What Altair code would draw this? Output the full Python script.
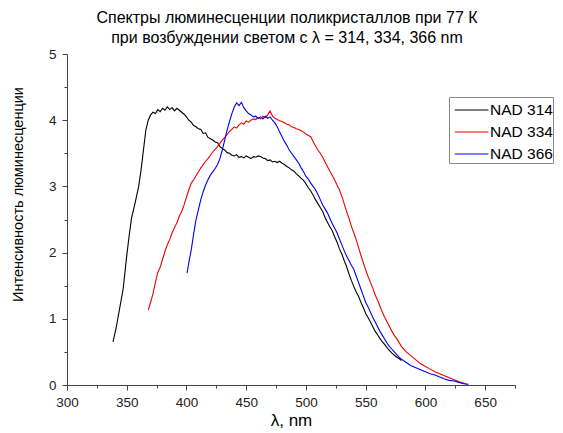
import altair as alt
import pandas as pd

# NAD 314 (black)
x314 = [338.5, 341, 344, 347, 350, 352, 354, 357, 360, 362, 364, 366, 368, 370, 372, 374, 376, 378, 380, 382,
        384, 386, 388, 390, 392, 394, 396, 398, 400, 402, 404, 406, 408, 410, 412, 414, 416, 418, 420, 422,
        424, 426, 428, 430, 432, 434, 436, 438, 440, 442, 444, 446, 448, 450, 452, 454, 456, 458, 460, 462,
        464, 466, 468, 470, 472, 474, 476, 478, 480, 482, 484, 486, 488, 490, 492, 494, 496, 498, 500, 502,
        504, 506, 508, 510, 512, 514, 516, 518, 520, 522, 524, 526, 528, 530, 532, 534, 536, 538, 540, 542,
        544, 546, 548, 550, 552, 554, 556, 558, 560, 562, 564, 566, 568, 570, 572, 574, 576, 578, 580]
y314 = [0.65, 0.85, 1.15, 1.45, 1.95, 2.25, 2.52, 2.75, 3.0, 3.25, 3.55, 3.85, 4.0, 4.08, 4.12, 4.10, 4.16, 4.13, 4.18, 4.15,
        4.20, 4.16, 4.19, 4.14, 4.18, 4.15, 4.12, 4.09, 4.05, 4.0, 3.97, 3.92, 3.90, 3.87, 3.86, 3.80, 3.81, 3.74, 3.72, 3.70,
        3.67, 3.66, 3.60, 3.57, 3.55, 3.51, 3.50, 3.47, 3.46, 3.48, 3.44, 3.45, 3.43, 3.46, 3.44, 3.42, 3.45, 3.44, 3.46, 3.45,
        3.43, 3.42, 3.39, 3.40, 3.37, 3.38, 3.36, 3.38, 3.35, 3.33, 3.30, 3.28, 3.25, 3.23, 3.19, 3.16, 3.12, 3.09, 3.04, 2.98,
        2.93, 2.87, 2.80, 2.74, 2.68, 2.62, 2.53, 2.46, 2.39, 2.33, 2.24, 2.16, 2.06, 1.98, 1.88, 1.79, 1.68, 1.58, 1.49, 1.41,
        1.34, 1.25, 1.17, 1.08, 1.02, 0.95, 0.88, 0.81, 0.76, 0.70, 0.65, 0.61, 0.56, 0.52, 0.48, 0.45, 0.42, 0.40, 0.37]

# NAD 334 (red)
x334 = [368, 370, 372, 374, 376, 378, 380, 382, 384, 386, 388, 390, 392, 394, 396, 398, 400, 402, 404, 406,
        408, 410, 412, 414, 416, 418, 420, 422, 424, 426, 428, 430, 432, 434, 436, 438, 440, 442, 444, 446,
        448, 450, 452, 454, 456, 458, 460, 462, 464, 466, 468, 470, 472, 474, 476, 478, 480, 482, 484, 486,
        488, 490, 492, 494, 496, 498, 500, 502, 504, 506, 508, 510, 512, 514, 516, 518, 520, 522, 524, 526,
        528, 530, 532, 534, 536, 538, 540, 542, 544, 546, 548, 550, 552, 554, 556, 558, 560, 562, 564, 566,
        568, 570, 572, 574, 576, 578, 580, 584, 588, 592, 596, 600, 604, 608, 612, 616, 620, 624, 628, 632, 634]
y334 = [1.13, 1.25, 1.38, 1.55, 1.70, 1.78, 1.90, 2.02, 2.12, 2.20, 2.30, 2.38, 2.45, 2.55, 2.62, 2.72, 2.84, 2.95, 3.05, 3.10,
        3.16, 3.22, 3.28, 3.33, 3.38, 3.42, 3.47, 3.52, 3.56, 3.60, 3.65, 3.70, 3.74, 3.78, 3.83, 3.86, 3.90, 3.88, 3.93, 3.96,
        3.94, 3.99, 3.97, 4.00, 4.02, 4.01, 4.04, 4.02, 4.06, 4.04, 4.08, 4.14, 4.06, 4.03, 4.01, 3.99, 3.98, 3.96, 3.94, 3.93,
        3.90, 3.89, 3.87, 3.86, 3.84, 3.82, 3.79, 3.77, 3.75, 3.68, 3.61, 3.55, 3.50, 3.44, 3.37, 3.30, 3.23, 3.17, 3.10, 3.02,
        2.95, 2.85, 2.74, 2.62, 2.52, 2.40, 2.30, 2.20, 2.08, 1.96, 1.85, 1.74, 1.64, 1.55, 1.46, 1.36, 1.28, 1.19, 1.10, 1.02,
        0.95, 0.88, 0.81, 0.75, 0.70, 0.64, 0.58, 0.50, 0.44, 0.38, 0.32, 0.28, 0.24, 0.20, 0.17, 0.14, 0.11, 0.08, 0.05, 0.03, 0.02]

# NAD 366 (blue)
x366 = [400.5, 402, 404, 406, 408, 410, 412, 414, 416, 418, 420, 422, 424, 426, 428, 430, 432, 434, 436, 438,
        440, 442, 444, 446, 448, 450, 452, 454, 456, 458, 460, 462, 464, 466, 468, 470, 472, 474, 476, 478,
        480, 482, 484, 486, 488, 490, 492, 494, 496, 498, 500, 502, 504, 506, 508, 510, 512, 514, 516, 518,
        520, 522, 524, 526, 528, 530, 532, 534, 536, 538, 540, 542, 544, 546, 548, 550, 552, 554, 556, 558,
        560, 562, 564, 566, 568, 570, 572, 574, 576, 578, 580, 584, 588, 592, 596, 600, 604, 608, 612, 616,
        620, 624, 628, 632, 636]
y366 = [1.69, 1.85, 2.04, 2.28, 2.50, 2.65, 2.80, 2.92, 3.02, 3.10, 3.17, 3.22, 3.27, 3.33, 3.42, 3.55, 3.70, 3.85, 3.98, 4.10,
        4.20, 4.26, 4.22, 4.27, 4.19, 4.14, 4.10, 4.08, 4.05, 4.06, 4.03, 4.05, 4.02, 4.06, 4.03, 4.05, 4.00, 3.96, 3.90, 3.82,
        3.75, 3.68, 3.62, 3.55, 3.50, 3.45, 3.40, 3.35, 3.28, 3.22, 3.15, 3.11, 3.05, 3.00, 2.95, 2.88, 2.80, 2.72, 2.66, 2.60,
        2.52, 2.44, 2.37, 2.30, 2.21, 2.12, 2.03, 1.95, 1.88, 1.81, 1.75, 1.65, 1.55, 1.45, 1.35, 1.25, 1.18, 1.10, 1.02, 0.95,
        0.88, 0.81, 0.75, 0.69, 0.63, 0.58, 0.54, 0.50, 0.46, 0.42, 0.39, 0.34, 0.29, 0.26, 0.23, 0.20, 0.17, 0.15, 0.12, 0.09,
        0.07, 0.06, 0.04, 0.02, 0.01]

series_names = ["NAD 314", "NAD 334", "NAD 366"]
series_colors = ["#000000", "#ee0000", "#0000ee"]

x_ticks = [300 + 25 * i for i in range(16)]
y_ticks = [0.5 * i for i in range(11)]

rows = []
for name, xs, ys in zip(series_names, [x314, x334, x366], [y314, y334, y366]):
    for i, (a, b) in enumerate(zip(xs, ys)):
        rows.append({"series": name, "wl": a, "val": b, "order": i})
df = pd.DataFrame(rows)

FONT = "Liberation Sans"

chart = alt.Chart(df).mark_line(strokeWidth=1.1, interpolate="linear").encode(
    x=alt.X("wl:Q",
            scale=alt.Scale(domain=[300, 675], nice=False, zero=False),
            axis=alt.Axis(values=x_ticks, title="λ, nm", grid=False, format="d",
                          labelExpr="datum.value % 50 === 0 ? datum.label : ''",
                          tickSize={"condition": {"test": "datum.value % 50 !== 0", "value": 3}, "value": 5},
                          labelFontSize=13.5, labelFont=FONT, labelColor="#222222", labelPadding=5,
                          titleFontSize=17, titleFont=FONT, titleFontWeight="normal", titleColor="#000000",
                          titlePadding=4,
                          domainColor="#444444", tickColor="#444444", labelFlush=False)),
    y=alt.Y("val:Q",
            scale=alt.Scale(domain=[0, 5], nice=False),
            axis=alt.Axis(values=y_ticks, title="Интенсивность люминесценции", grid=False, format=".0f",
                          labelExpr="datum.value % 1 === 0 ? datum.label : ''",
                          tickSize={"condition": {"test": "datum.value % 1 !== 0", "value": 3}, "value": 5},
                          labelFontSize=13.5, labelFont=FONT, labelColor="#222222", labelPadding=6,
                          titleFontSize=14.5, titleFont=FONT, titleFontWeight="normal", titleColor="#000000",
                          titleX=-49, titleY=140, titleBaseline="middle", titleAlign="center",
                          domainColor="#444444", tickColor="#444444")),
    color=alt.Color("series:N",
                    scale=alt.Scale(domain=series_names, range=series_colors),
                    legend=alt.Legend(title=None, orient="none", legendX=382, legendY=43,
                                      symbolType="M-0.6,0L2.2,0", symbolSize=576, symbolStrokeWidth=1.2,
                                      labelFontSize=15.5, labelFont=FONT, labelColor="#000000",
                                      strokeColor="#888888", padding=0, rowPadding=-3,
                                      labelOffset=15, fillColor="white")),
    order="order:Q",
).properties(
    width=448,
    height=331,
    padding={"left": 59, "top": 46, "right": 40, "bottom": 45},
    autosize=alt.AutoSizeParams(type="none"),
    title=alt.TitleParams(
        text=["Спектры люминесценции поликристаллов при 77 К",
              "при возбуждении светом с λ = 314, 334, 366 nm"],
        font=FONT, fontSize=16, fontWeight="normal", color="#000000",
        anchor="middle", lineHeight=20, offset=1, dx=-4),
).configure_view(stroke=None)

chart.save("out.html", embed_options={"renderer": "svg", "actions": False})
